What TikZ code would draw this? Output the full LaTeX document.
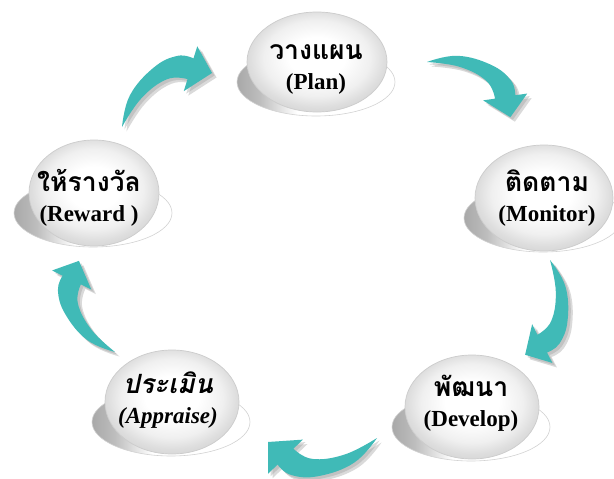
\documentclass[tikz,border=0pt]{standalone}
\usepackage{fontspec}
\setmainfont{Liberation Serif}
\newfontfamily\thaifont[Script=Thai]{Loma}
\usetikzlibrary{shapes.geometric}
\definecolor{arrteal}{RGB}{64,186,183}
\definecolor{shadowgray}{RGB}{150,150,150}
\pgfdeclareradialshading{domeshade}{\pgfpoint{0bp}{3bp}}{color(0bp)=(white); color(10bp)=(white); color(19bp)=(gray!12); color(24bp)=(gray!26); color(26bp)=(gray!30); color(50bp)=(gray!30)}
\pgfdeclarehorizontalshading{plateshade}{100bp}{color(0bp)=(gray!68); color(25bp)=(gray!68); color(32bp)=(gray!52); color(44bp)=(white); color(100bp)=(white)}
\newcommand\thl[1]{{\thaifont\fontsize{26.5}{30}\selectfont #1}}
\tikzset{
  dome/.style={ellipse, inner sep=0pt, shading=domeshade, draw=gray!40, line width=0.7pt},
  plate/.style={shading=plateshade, draw=gray!35, line width=0.6pt},
  btntext/.style={align=center, inner sep=0pt, font=\bfseries\fontsize{23}{30}\selectfont},
  btntextit/.style={btntext, font=\bfseries\itshape\fontsize{23}{30}\selectfont},
  arrowbody/.style={fill=arrteal},
  arrowshadow/.style={fill=shadowgray, opacity=0.35}
}
\def\arrowpath{plot[smooth,tension=0.7] coordinates {(0,0) (22,22) (55,33) (80,31) (92,21)} -- (101,29) -- (100,0) -- (68,-1) -- (77,7) -- plot[smooth,tension=0.7] coordinates {(77,7) (60,17) (30,14) (0,0)} -- cycle}
\newcommand\cyclearrow[4]{%
  \begin{scope}[shift={(#1+4.5,#2+4.5)}, rotate=#3, scale=#4, yscale=-1]
    \fill[arrowshadow] \arrowpath;
  \end{scope}
  \begin{scope}[shift={(#1+2.5,#2+2.5)}, rotate=#3, scale=#4, yscale=-1]
    \fill[arrowshadow] \arrowpath;
  \end{scope}
  \begin{scope}[shift={(#1,#2)}, rotate=#3, scale=#4, yscale=-1]
    \fill[arrowbody] \arrowpath;
  \end{scope}}
\newcommand\buttonat[5]{%
  \path[plate] (#2-1,#3+20) ellipse [x radius=79, y radius=34];
  \node[dome, minimum width=#4pt, minimum height=#5pt] (#1) at (#2,#3) {};}
\begin{document}
\begin{tikzpicture}[x=1pt,y=-1pt]
\useasboundingbox (0,0) rectangle (614,479);
\fill[white] (0,0) rectangle (614,479);
% buttons
\buttonat{planD}{317}{62}{140}{100}
\buttonat{monitorD}{544}{198}{138}{106}
\buttonat{developD}{472}{407}{134}{104}
\buttonat{appraiseD}{172}{402}{134}{104}
\buttonat{rewardD}{94}{193}{130}{106}
% texts
\node[btntext] (plan) at (316,70) {\thl{วางแผน}\\(Plan)};
\node[btntext] (monitor) at (547,198) {\thl{ติดตาม}\\(Monitor)};
\node[btntext] (develop) at (471,403) {\thl{พัฒนา}\\(Develop)};
\node[btntextit] (appraise) at (168,400) {\thl{ประเมิน}\\(Appraise)};
\node[btntext] (reward) at (89,198) {\thl{ให้รางวัล}\\(Reward )};
% arrows
\cyclearrow{122}{127}{30.96}{1.05}
\cyclearrow{427}{62}{-33.5}{1.0}
\cyclearrow{550}{260}{-104.7}{0.98}
\cyclearrow{377}{438}{-177.9}{1.09}
\cyclearrow{115}{352}{111.6}{0.98}
\end{tikzpicture}
\end{document}
